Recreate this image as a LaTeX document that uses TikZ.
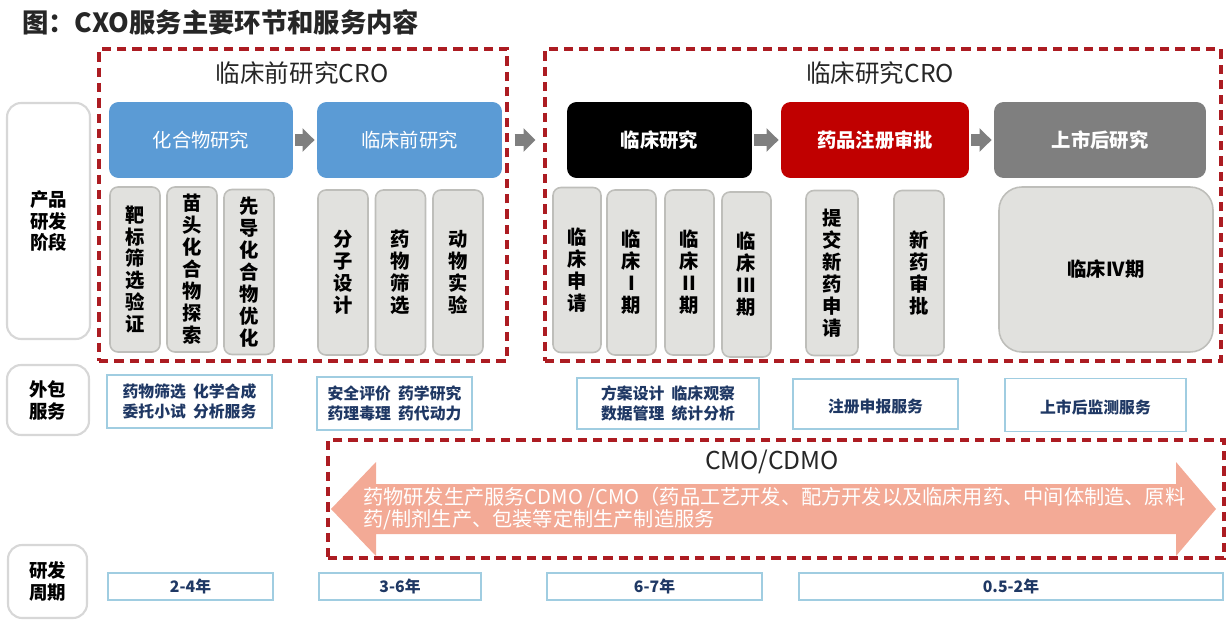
\documentclass[tikz,border=0pt]{standalone}
\usepackage{fontspec}
\setmainfont{Noto Sans CJK SC}
\usetikzlibrary{arrows.meta}

\definecolor{cblue}{RGB}{91,155,213}
\definecolor{cred}{RGB}{192,0,0}
\definecolor{cgrey}{RGB}{127,127,127}
\definecolor{subfill}{RGB}{225,225,222}
\definecolor{subline}{RGB}{190,190,186}
\definecolor{lblline}{RGB}{215,215,215}
\definecolor{svcline}{RGB}{160,205,225}
\definecolor{navy}{RGB}{31,56,100}
\definecolor{dashred}{RGB}{172,28,34}
\definecolor{salmon}{RGB}{243,170,150}
\definecolor{darktext}{RGB}{38,38,38}

\tikzset{
  phase/.style={rounded corners=5.5pt, text=white, inner sep=0pt,
    font=\fontsize{11}{13}\selectfont, minimum height=1.52cm},
  subbox/.style={draw=subline, line width=0.9pt, fill=subfill, rounded corners=4.5pt,
    align=center, inner sep=0pt, minimum width=1cm, minimum height=3.3cm,
    font=\fontsize{11}{12.5}\selectfont\bfseries},
  crobox/.style={draw=dashred, line width=1.9pt, dash pattern=on 5.3pt off 3.4pt, inner sep=0pt},
  lblbox/.style={draw=lblline, line width=1.2pt, fill=white, rounded corners=8pt,
    align=center, inner sep=0pt, font=\fontsize{10.5}{12.5}\selectfont\bfseries},
  svcbox/.style={draw=svcline, line width=0.8pt, fill=white, align=center, inner sep=0pt,
    text=navy, font=\fontsize{9}{11}\selectfont\bfseries},
  garrow/.style={draw=cgrey, line width=7pt, -{Triangle[length=6.8pt,width=13pt]},
    shorten <=1.2pt, shorten >=1.2pt},
  crotitle/.style={text=darktext, font=\fontsize{14}{16}\selectfont},
}

\begin{document}
\begin{tikzpicture}[x=0.02cm, y=-0.02cm]
  \useasboundingbox (0,0) rectangle (1227,625);

  \node[anchor=west, text=darktext, font=\fontsize{15}{18}\selectfont\bfseries] (title) at (16,22) {图：CXO服务主要环节和服务内容};

  % the two CRO frames and the CMO/CDMO frame
  \node[crobox, minimum width=8.16cm, minimum height=6.24cm] (precro) at (303,205) {};
  \node[crobox, minimum width=13.52cm, minimum height=6.24cm] (clincro) at (883,205) {};
  \node[crotitle] (precrot) at (302,73) {临床前研究CRO};
  \node[crotitle] (clincrot) at (880,73) {临床研究CRO};

  % row labels
  \node[lblbox, minimum width=1.66cm, minimum height=4.72cm] (stagelbl) at (48.5,221) {产品\\研发\\阶段};
  \node[lblbox, minimum width=1.64cm, minimum height=1.4cm] (outlbl) at (48,400) {外包\\服务};
  \node[lblbox, minimum width=1.58cm, minimum height=1.46cm] (cyclbl) at (47.5,581.5) {研发\\周期};

  % phases
  \node[phase, fill=cblue, minimum width=3.68cm] (cmpd) at (201,140) {化合物研究};
  \node[phase, fill=cblue, minimum width=3.70cm] (prec) at (409.5,140) {临床前研究};
  \node[phase, fill=black, minimum width=3.70cm, font=\fontsize{11}{13}\selectfont\bfseries] (clin) at (659.5,140) {临床研究};
  \node[phase, fill=cred, minimum width=3.76cm, font=\fontsize{11}{13}\selectfont\bfseries] (reg) at (875,140) {药品注册审批};
  \node[phase, fill=cgrey, minimum width=4.24cm, font=\fontsize{11}{13}\selectfont\bfseries] (post) at (1100,140) {上市后研究};

  \draw[garrow] (cmpd) -- (prec);
  \draw[garrow, shorten <=3.4pt, shorten >=4.5pt] (precro.east |- prec.east) -- (clincro.west |- clin.west);
  \draw[garrow] (clin) -- (reg);
  \draw[garrow] (reg) -- (post);

  % steps under each phase
  \node[subbox] (tgt) at (135,269.5) {靶\\标\\筛\\选\\验\\证};
  \node[subbox] (hit) at (192,269.5) {苗\\头\\化\\合\\物\\探\\索};
  \node[subbox] (lead) at (249,272) {先\\导\\化\\合\\物\\优\\化};
  \node[subbox] (mol) at (343,272.5) {分\\子\\设\\计};
  \node[subbox] (drug) at (400.5,272.5) {药\\物\\筛\\选};
  \node[subbox] (anim) at (458,272.5) {动\\物\\实\\验};

  \node[subbox, minimum width=0.96cm] (ind) at (577,270) {临\\床\\申\\请};
  \node[subbox, minimum width=0.98cm] (ph1) at (631.5,272.5) {临\\床\\I\\期};
  \node[subbox, minimum width=0.98cm] (ph2) at (689.5,272.5) {临\\床\\II\\期};
  \node[subbox, minimum width=0.98cm] (ph3) at (746.5,274.5) {临\\床\\III\\期};
  \node[subbox, minimum width=1.04cm] (nda) at (832,273) {提\\交\\新\\药\\申\\请};
  \node[subbox] (appr) at (919,273) {新\\药\\审\\批};
  \node[subbox, minimum width=4.28cm, rounded corners=13pt] (ph4) at (1106,269.5) {临床IV期};

  % outsourced services
  \node[svcbox, minimum width=3.3cm, minimum height=1.06cm] (sv1) at (189.5,401.5) {药物筛选\ \ 化学合成\\委托小试\ \ 分析服务};
  \node[svcbox, minimum width=3.1cm, minimum height=1.06cm] (sv2) at (394.5,403.5) {安全评价\ \ 药学研究\\药理毒理\ \ 药代动力};
  \node[svcbox, minimum width=3.64cm, minimum height=1.02cm] (sv3) at (668,403.5) {方案设计\ \ 临床观察\\数据管理\ \ 统计分析};
  \node[svcbox, minimum width=3.3cm, minimum height=1.0cm] (sv4) at (875.5,404) {\mbox{}\\注册申报服务};
  \node[svcbox, minimum width=3.62cm, minimum height=1.06cm] (sv5) at (1095.5,405) {\mbox{}\\上市后监测服务};

  % CMO/CDMO band
  \node[crobox, minimum width=17.92cm, minimum height=2.36cm] (cmobox) at (776,499) {};
  \fill[salmon] (331,509) -- (376,462) -- (376,484) -- (1176,484) -- (1176,462) -- (1216,509)
    -- (1176,556) -- (1176,534) -- (376,534) -- (376,556) -- cycle;
  \node[crotitle] (cmot) at (772,462) {CMO/CDMO};
  \node[anchor=west, align=left, text=white, inner sep=0pt, font=\fontsize{11.5}{12.5}\selectfont] (cmotxt) at (363,509)
    {药物研发生产服务CDMO /CMO（药品工艺开发、配方开发以及临床用药、中间体制造、原料\\药/制剂生产、包装等定制生产制造服务};

  % development cycle
  \node[svcbox, minimum width=3.3cm, minimum height=0.54cm] (cy1) at (190.5,586.5) {2-4年};
  \node[svcbox, minimum width=3.24cm, minimum height=0.54cm] (cy2) at (400,586.5) {3-6年};
  \node[svcbox, minimum width=4.3cm, minimum height=0.54cm] (cy3) at (654.5,586.5) {6-7年};
  \node[svcbox, minimum width=8.48cm, minimum height=0.54cm] (cy4) at (1011,586.5) {0.5-2年};
\end{tikzpicture}
\end{document}
